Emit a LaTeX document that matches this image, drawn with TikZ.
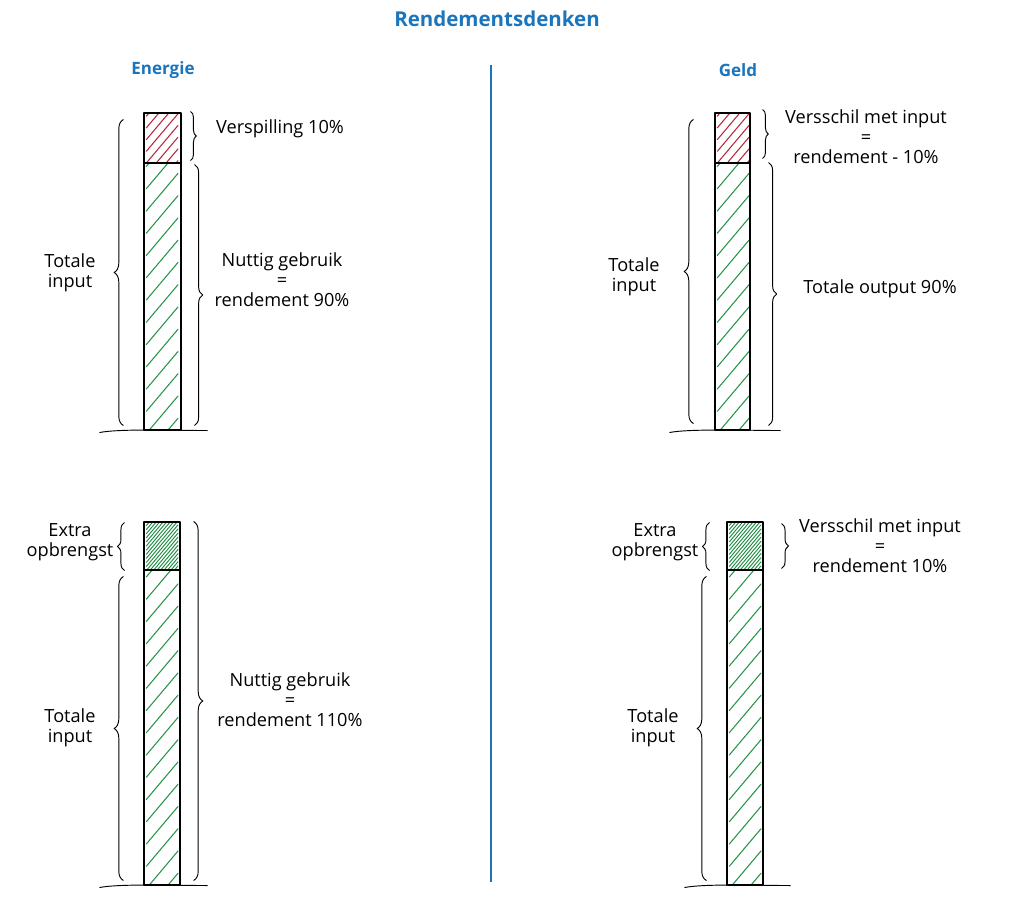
\documentclass[tikz,border=0pt]{standalone}
\usepackage{fontspec}
\setmainfont{Open Sans}
\usetikzlibrary{positioning, calc, fit, decorations.pathreplacing}

\definecolor{headblue}{HTML}{1B75BC}
\definecolor{wastered}{HTML}{B8283A}
\definecolor{usegreen}{HTML}{259448}
\definecolor{extragreen}{HTML}{1E8C42}

\begin{document}
\begin{tikzpicture}[x=0.03cm, y=-0.03cm, line join=round,
    part/.style={draw, line width=0.9pt, inner sep=0pt},
    hatch/.style n args={3}{path picture={
        \pgfmathtruncatemacro{\nh}{360/#2}
        \foreach \k in {0,...,\nh}
          \draw[#1, line width=#3, line cap=round]
            ([xshift=2pt, yshift={\k*#2pt-60pt}]path picture bounding box.south west) -- ++(27pt,32pt);
      }},
    curly/.style={decorate, decoration={brace, amplitude=#1}, line width=0.8pt},
    curly/.default=7pt,
    hand/.style={font=\fontsize{15.5}{17}\selectfont, align=center},
    head/.style={font=\fontsize{14.5}{17}\selectfont\bfseries, text=headblue},
    ground/.style={line width=0.8pt}]

  \useasboundingbox (0,0) rectangle (1024,921);

  % titles
  \node[font=\fontsize{17.5}{20}\selectfont\bfseries, text=headblue] (title) at (497,19) {Rendementsdenken};
  \node[head] (energie) at (163,70) {Energie};
  \node[head] (geld) at (738,70) {Geld};
  \draw[headblue, line width=1pt] (491,65) -- (491,882);

  % Energie, boven
  \node[part, hatch={wastered}{10}{0.9pt}, fit={(144,113) (181,163)}] (wasteE) {};
  \node[part, hatch={usegreen}{19}{0.9pt}, fit={(144,163) (181,430)}] (useE) {};
  \draw[curly=8pt] ($(useE.south west)+(-20,-5)$) -- ($(wasteE.north west)+(-20,7)$);
  \draw[curly=5pt] ($(wasteE.north east)+(9,-1)$) -- ($(wasteE.south east)+(9,-3)$);
  \draw[curly=7pt] ($(useE.north east)+(13,2)$) -- ($(useE.south east)+(13,-5)$);
  \draw[ground] ($(useE.south west)+(-44,2)$) .. controls +(20,-4) and +(-30,0) .. ($(useE.south east)+(26,0)$);
  \node[hand] (inputE) at (70,273) {Totale\\input};
  \node[hand] (lossE) at (280,129) {Verspilling 10\%};
  \node[hand] (nutE) at (282,280) {Nuttig gebruik\\=\\rendement 90\%};

  % Geld, boven
  \node[part, hatch={wastered}{10}{0.9pt}, fit={(715,113) (750,163)}] (wasteG) {};
  \node[part, hatch={usegreen}{19}{0.9pt}, fit={(715,163) (750,430)}] (useG) {};
  \draw[curly=8pt] ($(useG.south west)+(-21,-7)$) -- ($(wasteG.north west)+(-21,7)$);
  \draw[curly=5pt] ($(wasteG.north east)+(12,-3)$) -- ($(wasteG.south east)+(12,-5)$);
  \draw[curly=7pt] ($(useG.north east)+(18,0)$) -- ($(useG.south east)+(18,-5)$);
  \draw[ground] ($(useG.south west)+(-45,2)$) .. controls +(20,-4) and +(-30,0) .. ($(useG.south east)+(30,0)$);
  \node[hand] (inputG) at (634,277) {Totale\\input};
  \node[hand] (diffG) at (866,137) {Versschil met input\\=\\rendement - 10\%};
  \node[hand] (outG) at (880,289) {Totale output 90\%};

  % Energie, onder
  \node[part, hatch={extragreen}{3.5}{0.8pt}, fit={(144,522) (180,570)}] (extraE) {};
  \node[part, hatch={usegreen}{19}{0.9pt}, fit={(144,570) (180,885)}] (baseE) {};
  \draw[curly=6pt] ($(extraE.south west)+(-19,0)$) -- ($(extraE.north west)+(-19,1)$);
  \draw[curly=8pt] ($(baseE.south west)+(-20,-5)$) -- ($(baseE.north west)+(-20,7)$);
  \draw[curly=8pt] ($(extraE.north east)+(13,0)$) -- ($(baseE.south east)+(13,-5)$);
  \draw[ground] ($(baseE.south west)+(-44,2)$) .. controls +(20,-4) and +(-30,0) .. ($(baseE.south east)+(27,0)$);
  \node[hand] (extraTxtE) at (70,542) {Extra\\opbrengst};
  \node[hand] (inputE2) at (70,728) {Totale\\input};
  \node[hand] (nutE2) at (290,700) {Nuttig gebruik\\=\\rendement 110\%};

  % Geld, onder
  \node[part, hatch={extragreen}{3.5}{0.8pt}, fit={(727,522) (763,570)}] (extraG) {};
  \node[part, hatch={usegreen}{19}{0.9pt}, fit={(727,570) (763,885)}] (baseG) {};
  \draw[curly=6pt] ($(extraG.south west)+(-17,0)$) -- ($(extraG.north west)+(-17,1)$);
  \draw[curly=8pt] ($(baseG.south west)+(-20,-5)$) -- ($(baseG.north west)+(-20,7)$);
  \draw[curly=6pt] ($(extraG.north east)+(18,2)$) -- ($(extraG.south east)+(18,-2)$);
  \draw[ground] ($(baseG.south west)+(-42,2)$) .. controls +(20,-4) and +(-30,0) .. ($(baseG.south east)+(27,0)$);
  \node[hand] (extraTxtG) at (655,542) {Extra\\opbrengst};
  \node[hand] (inputG2) at (653,728) {Totale\\input};
  \node[hand] (diffG2) at (880,546) {Versschil met input\\=\\rendement 10\%};

\end{tikzpicture}
\end{document}
